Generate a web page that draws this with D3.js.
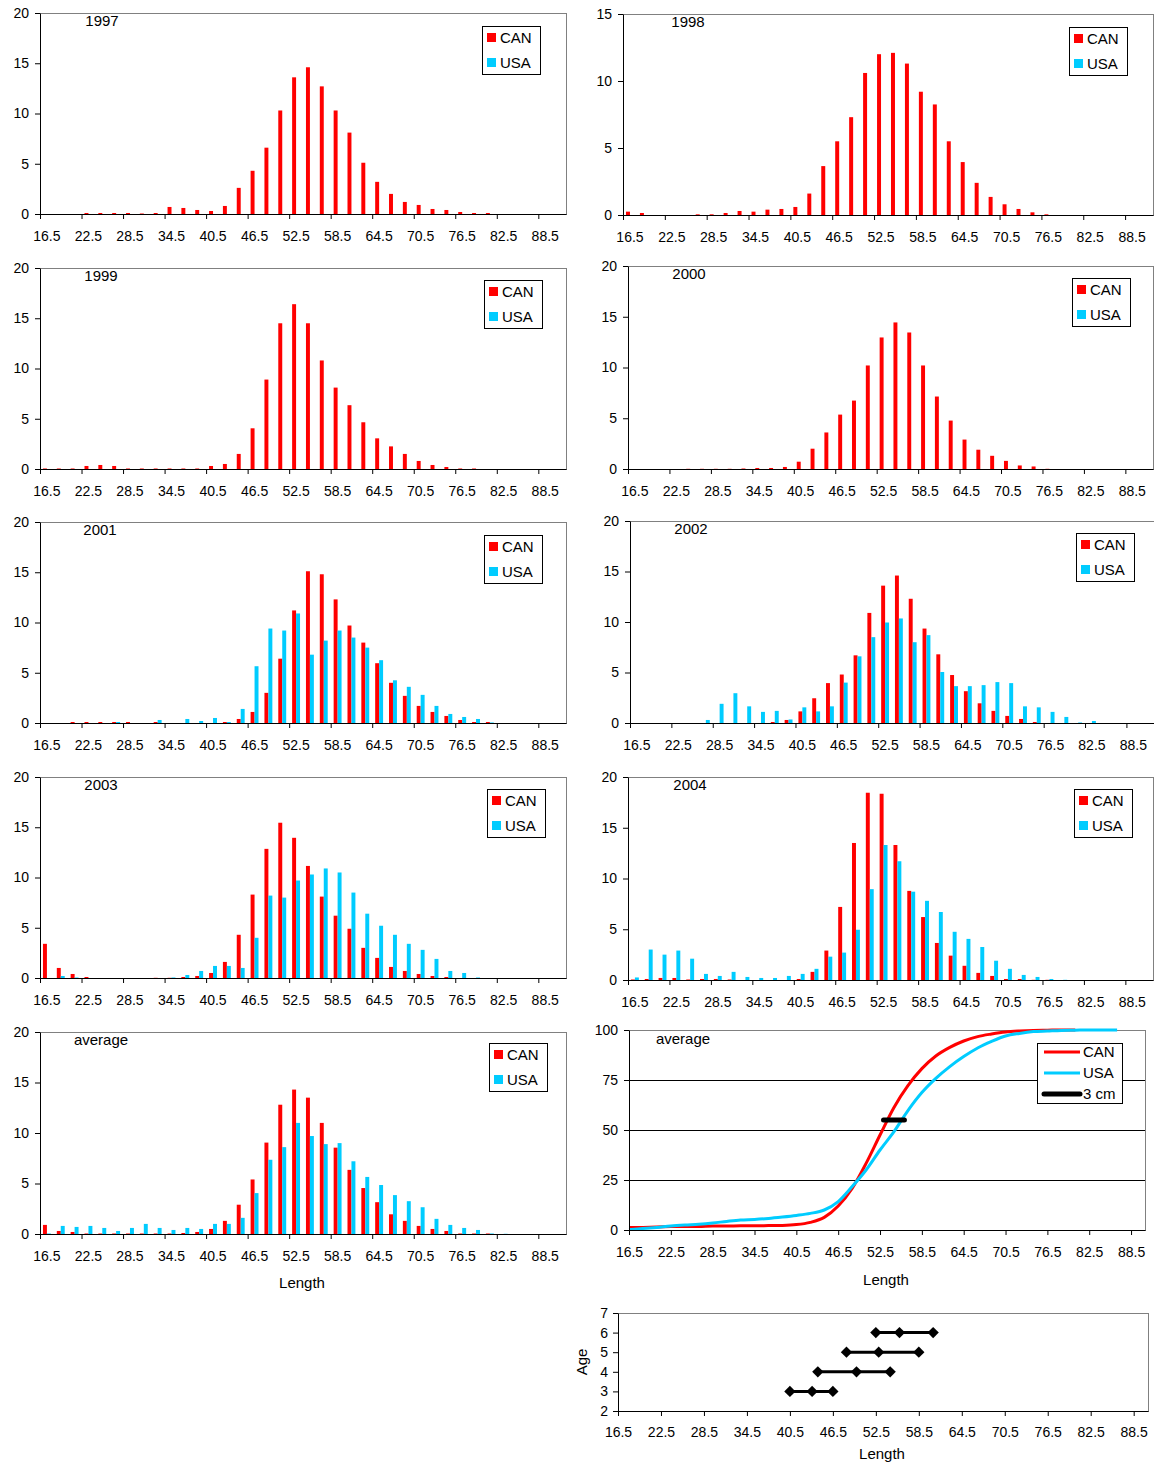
<!DOCTYPE html>
<html>
<head>
<meta charset="utf-8">
<script src="https://cdn.jsdelivr.net/npm/d3@7"></script>
<style>
  body { margin: 0; background: #fff; }
  svg { display: block; font-family: "Liberation Sans", Arial, sans-serif; }
</style>
</head>
<body>
<div id="chart"></div>
<script>
// length classes (cm)
const lengths = ["16.5","18.5","20.5","22.5","24.5","26.5","28.5","30.5","32.5","34.5",
                 "36.5","38.5","40.5","42.5","44.5","46.5","48.5","50.5","52.5","54.5",
                 "56.5","58.5","60.5","62.5","64.5","66.5","68.5","70.5","72.5","74.5",
                 "76.5","78.5","80.5","82.5","84.5","86.5","88.5","90.5"];
const series = ["CAN", "USA"];

// percentage at length, per year
const can1997 = [0,0,0,0.1,0.1,0.1,0.1,0.05,0.1,0.7, 0.6,0.4,0.3,0.8,2.6,4.3,6.6,10.3,13.6,14.6,
                 12.7,10.3,8.1,5.1,3.2,2.0,1.2,0.9,0.5,0.4, 0.2,0.1,0.1,0,0,0,0,0];
const can1998 = [0.25,0.15,0,0,0,0.05,0.05,0.15,0.3,0.25, 0.4,0.45,0.6,1.6,3.65,5.5,7.3,10.6,12.0,12.1,
                 11.3,9.2,8.25,5.5,3.95,2.4,1.35,0.8,0.45,0.2, 0.05,0,0,0,0,0,0,0];
const can1999 = [0.05,0.05,0.05,0.3,0.4,0.3,0.05,0.05,0.05,0.05, 0.05,0.05,0.3,0.5,1.5,4.05,8.9,14.5,16.4,14.5,
                 10.8,8.1,6.35,4.65,3.05,2.25,1.5,0.8,0.4,0.2, 0.05,0.05,0,0,0,0,0,0];
const can2000 = [0,0,0,0,0.02,0.02,0.02,0.02,0.05,0.1, 0.1,0.2,0.72,2.0,3.6,5.36,6.74,10.2,12.96,14.44,
                 13.45,10.2,7.14,4.77,2.9,1.9,1.3,0.8,0.35,0.25, 0.02,0,0,0,0,0,0,0];
const can2001 = [0,0,0.1,0.1,0.1,0.1,0.1,0,0.1,0, 0,0,0,0.1,0.4,1.1,3.0,6.4,11.2,15.1,
                 14.8,12.3,9.7,8.0,5.95,4.0,2.7,1.7,1.1,0.7, 0.3,0.1,0.1,0,0,0,0,0];
const usa2001 = [0,0,0,0,0,0.1,0,0,0.3,0, 0.4,0.2,0.5,0.1,1.4,5.65,9.4,9.2,10.9,6.8,
                 8.2,9.2,8.5,7.5,6.25,4.25,3.6,2.8,1.7,0.9, 0.6,0.4,0.05,0,0,0,0,0];
const can2002 = [0,0,0,0,0,0,0,0,0,0, 0.1,0.3,1.15,2.45,3.95,4.8,6.7,10.9,13.6,14.6,
                 12.3,9.35,6.8,4.75,3.15,1.95,1.2,0.7,0.4,0.1, 0,0,0,0,0,0,0,0];
const usa2002 = [0,0,0,0,0,0.3,1.9,2.95,1.65,1.1, 1.2,0.35,1.55,1.15,1.65,4.0,6.6,8.5,9.95,10.35,
                 8.0,8.7,5.05,3.65,3.65,3.75,4.05,3.95,1.65,1.55, 1.1,0.6,0.05,0.2,0,0,0,0];
const can2003 = [3.4,1.0,0.4,0.1,0,0,0,0,0.02,0.02, 0.1,0.2,0.5,1.6,4.3,8.3,12.85,15.45,13.95,11.15,
                 8.1,6.2,4.9,3.0,2.0,1.1,0.7,0.4,0.2,0.1, 0,0,0,0,0,0,0,0];
const usa2003 = [0,0.2,0.05,0,0,0,0,0,0,0.05, 0.3,0.7,1.2,1.2,1.0,4.0,8.2,8.0,9.7,10.3,
                 10.9,10.5,8.5,6.4,5.2,4.3,3.4,2.8,1.9,0.7, 0.5,0.05,0,0,0,0,0,0];
const can2004 = [0.05,0.1,0.2,0.2,0.05,0.1,0.1,0.05,0,0, 0,0,0.1,0.8,2.9,7.2,13.5,18.45,18.35,13.3,
                 8.78,6.2,3.65,2.4,1.4,0.7,0.4,0.1,0.1,0.02, 0.02,0,0,0,0,0,0,0];
const usa2004 = [0.25,3.0,2.5,2.9,2.1,0.6,0.4,0.8,0.3,0.2, 0.2,0.4,0.6,1.1,2.3,2.7,4.95,8.95,13.3,11.7,
                 8.7,7.8,6.7,4.75,4.05,3.25,1.9,1.1,0.5,0.3, 0.1,0.02,0,0,0,0,0,0];
const canAvg  = [0.9,0.3,0.2,0.05,0.05,0.05,0.05,0.05,0.05,0.05, 0.1,0.2,0.5,1.3,2.9,5.4,9.05,12.8,14.3,13.5,
                 11.0,8.55,6.35,4.55,3.15,1.95,1.3,0.8,0.5,0.3, 0.05,0.05,0.05,0,0,0,0,0];
const usaAvg  = [0.05,0.8,0.7,0.8,0.6,0.3,0.6,1.0,0.6,0.4, 0.6,0.5,1.0,1.0,1.6,4.05,7.35,8.6,11.0,9.7,
                 8.9,9.0,7.2,5.65,4.85,3.85,3.25,2.65,1.5,0.9, 0.6,0.4,0.05,0.02,0,0,0,0];

// cumulative % of the average
const cumCan = [1.2,1.3,1.5,1.7,1.8,1.8,2.0,2.0,2.1,2.1, 2.2,2.3,2.7,3.8,6.3,12.0,20.8,33.3,47.5,61.3,
                72.2,80.7,87.0,91.3,94.5,96.7,98.0,99.0,99.5,99.8, 99.9,100,100];
const cumUsa = [0.2,0.7,1.3,2.0,2.5,2.9,3.5,4.3,5.0,5.3, 5.8,6.5,7.3,8.3,10.0,14.2,21.7,30.0,40.0,49.2,
                59.7,68.7,75.8,81.7,86.7,91.0,94.3,97.0,98.3,99.2, 99.5,99.8,99.9,100,100,100];
const threeCm = [53, 56];   // length span of the "3 cm" marker
const threeCmLevel = 55;

// length range at age
const ages    = [3, 4, 5, 6];
const ageLow  = [40.5, 44.4, 48.4, 52.5];
const ageMid  = [43.6, 49.8, 52.9, 55.8];
const ageHigh = [46.5, 54.5, 58.5, 60.5];

const RED = "#ff0000", CYAN = "#00ccff";
const labelCats = lengths.filter((d, i) => i % 3 === 0 && i <= 36);

const svg = d3.select("#chart").append("svg")
    .attr("width", 1154)
    .attr("height", 1464);
svg.append("rect").attr("width", "100%").attr("height", "100%").attr("fill", "#fff");

function styleAxis(sel) {
    sel.attr("font-family", null).attr("font-size", 14);
    sel.selectAll(".domain").attr("stroke", "#000");
    sel.selectAll(".tick line").attr("stroke", "#000");
    sel.selectAll(".tick text").attr("fill", "#000");
}

function plotFrame(g, w, h) {
    g.append("rect")
        .attr("x", 0.5).attr("y", 0.5)
        .attr("width", w).attr("height", h)
        .attr("fill", "#fff")
        .attr("stroke", "#808080");
}

function legendBox(g, lx, ly, w, h) {
    return g.append("g")
        .attr("transform", `translate(${lx},${ly})`)
        .call(s => s.append("rect")
            .attr("x", 0.5).attr("y", 0.5)
            .attr("width", w).attr("height", h)
            .attr("fill", "#fff").attr("stroke", "#000"));
}

//Histogram panel: CAN / USA clustered bars
function histPanel(p) {
    const w = p.w, h = p.h;
    const g = svg.append("g").attr("transform", `translate(${p.x},${p.y})`);
    plotFrame(g, w, h);

    const x = d3.scaleBand().domain(lengths).range([0, w]);
    // gap width 150% like the spreadsheet default
    const xs = d3.scaleBand().domain(series).range([0, x.bandwidth()]).paddingOuter(0.75);
    const y = d3.scaleLinear().domain([0, p.max]).range([h, 0]);

    [[p.can, "CAN", RED], [p.usa, "USA", CYAN]].forEach(([vals, s, col]) => {
        if (!vals) return;
        g.append("g").selectAll("rect")
            .data(vals.map((v, i) => ({c: lengths[i], v: v})).filter(d => d.v > 0))
            .join("rect")
            .attr("x", d => x(d.c) + xs(s))
            .attr("width", xs.bandwidth())
            .attr("y", d => y(d.v))
            .attr("height", d => h - y(d.v))
            .attr("fill", col);
    });

    g.append("g")
        .call(d3.axisLeft(y).tickValues(d3.range(0, p.max + 1, 5)).tickSize(5).tickPadding(6).tickSizeOuter(0))
        .call(styleAxis);

    const xg = g.append("g")
        .attr("transform", `translate(0,${h})`)
        .call(d3.axisBottom(x).tickValues(labelCats).tickSize(0).tickPadding(17))
        .call(styleAxis);
    // tick marks sit on the category boundaries
    xg.selectAll(".bound").data(labelCats).join("line")
        .attr("class", "bound")
        .attr("x1", d => x(d) + 0.5).attr("x2", d => x(d) + 0.5)
        .attr("y1", 0).attr("y2", 5)
        .attr("stroke", "#000");

    g.append("text")
        .attr("x", p.tx).attr("y", 13)
        .attr("text-anchor", "middle")
        .attr("font-size", 15)
        .text(p.title);

    const lg = legendBox(g, p.lx, p.ly, 58, 48);
    series.forEach((s, i) => {
        lg.append("rect")
            .attr("x", 5).attr("y", 7 + i * 25)
            .attr("width", 9).attr("height", 9)
            .attr("fill", i === 0 ? RED : CYAN);
        lg.append("text")
            .attr("x", 18).attr("y", 17 + i * 25)
            .attr("font-size", 15)
            .text(s);
    });

    if (p.xTitle) {
        g.append("text")
            .attr("x", w / 2 - 1).attr("y", h + 54)
            .attr("text-anchor", "middle")
            .attr("font-size", 15)
            .text(p.xTitle);
    }
}

const panels = [
    {title: "1997", can: can1997, usa: null, max: 20, x: 40,  y: 13,   w: 526, h: 201, tx: 62, lx: 442, ly: 13},
    {title: "1998", can: can1998, usa: null, max: 15, x: 623, y: 14,   w: 530, h: 201, tx: 65, lx: 446, ly: 13},
    {title: "1999", can: can1999, usa: null, max: 20, x: 40,  y: 268,  w: 526, h: 201, tx: 61, lx: 444, ly: 12},
    {title: "2000", can: can2000, usa: null, max: 20, x: 628, y: 266,  w: 525, h: 203, tx: 61, lx: 444, ly: 12},
    {title: "2001", can: can2001, usa: usa2001, max: 20, x: 40,  y: 522, w: 526, h: 201, tx: 60, lx: 444, ly: 13},
    {title: "2002", can: can2002, usa: usa2002, max: 20, x: 630, y: 521, w: 524, h: 202, tx: 61, lx: 446, ly: 12},
    {title: "2003", can: can2003, usa: usa2003, max: 20, x: 40,  y: 777, w: 526, h: 201, tx: 61, lx: 447, ly: 12},
    {title: "2004", can: can2004, usa: usa2004, max: 20, x: 628, y: 777, w: 525, h: 203, tx: 62, lx: 446, ly: 12},
    {title: "average", can: canAvg, usa: usaAvg, max: 20, x: 40, y: 1032, w: 526, h: 202, tx: 61, lx: 449, ly: 11, xTitle: "Length"}
];
panels.forEach(histPanel);

//Cumulative panel
function cumPanel() {
    const w = 516, h = 200;
    const g = svg.append("g").attr("transform", "translate(629,1030)");
    plotFrame(g, w, h);

    const x = d3.scaleLinear().domain([+lengths[0], +lengths[lengths.length - 1]]).range([0, w]);
    const y = d3.scaleLinear().domain([0, 100]).range([h, 0]);

    g.selectAll(".grid").data([25, 50, 75]).join("line")
        .attr("class", "grid")
        .attr("x1", 0).attr("x2", w)
        .attr("y1", d => Math.round(y(d)) + 0.5).attr("y2", d => Math.round(y(d)) + 0.5)
        .attr("stroke", "#000");

    const line = d3.line()
        .x((d, i) => x(+lengths[i]))
        .y(d => y(d))
        .curve(d3.curveMonotoneX);

    g.append("path").datum(cumCan).attr("d", line)
        .attr("fill", "none").attr("stroke", RED).attr("stroke-width", 3);
    g.append("path").datum(cumUsa).attr("d", line)
        .attr("fill", "none").attr("stroke", CYAN).attr("stroke-width", 3);

    g.append("line")
        .attr("x1", x(threeCm[0])).attr("x2", x(threeCm[1]))
        .attr("y1", y(threeCmLevel)).attr("y2", y(threeCmLevel))
        .attr("stroke", "#000").attr("stroke-width", 5).attr("stroke-linecap", "round");

    g.append("g")
        .call(d3.axisLeft(y).tickValues([0, 25, 50, 75, 100]).tickSize(5).tickPadding(6).tickSizeOuter(0))
        .call(styleAxis);
    g.append("g")
        .attr("transform", `translate(0,${h})`)
        .call(d3.axisBottom(x).tickValues(labelCats.map(Number)).tickFormat(d3.format(".1f"))
            .tickSize(5).tickPadding(12).tickSizeOuter(0))
        .call(styleAxis);

    g.append("text")
        .attr("x", 54).attr("y", 14)
        .attr("text-anchor", "middle")
        .attr("font-size", 15)
        .text("average");

    const lg = legendBox(g, 408, 13, 85, 60);
    [["CAN", RED, 3], ["USA", CYAN, 3], ["3 cm", "#000", 5]].forEach(([s, col, sw], i) => {
        lg.append("line")
            .attr("x1", 7).attr("x2", 43)
            .attr("y1", 9 + i * 21).attr("y2", 9 + i * 21)
            .attr("stroke", col).attr("stroke-width", sw)
            .attr("stroke-linecap", i === 2 ? "round" : "butt");
        lg.append("text")
            .attr("x", 46).attr("y", 14 + i * 21)
            .attr("font-size", 15)
            .text(s);
    });

    g.append("text")
        .attr("x", 257).attr("y", h + 55)
        .attr("text-anchor", "middle")
        .attr("font-size", 15)
        .text("Length");
}
cumPanel();

//Age at length panel
function agePanel() {
    const w = 530, h = 98;
    const g = svg.append("g").attr("transform", "translate(618,1313)");
    plotFrame(g, w, h);

    const x = d3.scaleLinear().domain([+lengths[0], +lengths[lengths.length - 1]]).range([0, w]);
    const y = d3.scaleLinear().domain([2, 7]).range([h, 0]);

    const rows = ages.map((a, i) => ({age: a, pts: [ageLow[i], ageMid[i], ageHigh[i]]}));

    g.selectAll(".span").data(rows).join("line")
        .attr("class", "span")
        .attr("x1", d => x(d.pts[0])).attr("x2", d => x(d.pts[2]))
        .attr("y1", d => y(d.age)).attr("y2", d => y(d.age))
        .attr("stroke", "#000").attr("stroke-width", 3);

    const diamond = d3.symbol(d3.symbolSquare, 64);
    g.selectAll(".mk").data(rows.flatMap(r => r.pts.map(v => ({age: r.age, v: v})))).join("path")
        .attr("class", "mk")
        .attr("d", diamond)
        .attr("transform", d => `translate(${x(d.v)},${y(d.age)}) rotate(45)`)
        .attr("fill", "#000");

    g.append("g")
        .call(d3.axisLeft(y).tickValues(d3.range(2, 8)).tickFormat(d3.format("d"))
            .tickSize(5).tickPadding(5).tickSizeOuter(0))
        .call(styleAxis);
    g.append("g")
        .attr("transform", `translate(0,${h})`)
        .call(d3.axisBottom(x).tickValues(labelCats.map(Number)).tickFormat(d3.format(".1f"))
            .tickSize(5).tickPadding(11).tickSizeOuter(0))
        .call(styleAxis);

    g.append("text")
        .attr("transform", `translate(-31,${h / 2}) rotate(-90)`)
        .attr("text-anchor", "middle")
        .attr("font-size", 15)
        .text("Age");
    g.append("text")
        .attr("x", 264).attr("y", h + 48)
        .attr("text-anchor", "middle")
        .attr("font-size", 15)
        .text("Length");
}
agePanel();
</script>
</body>
</html>
